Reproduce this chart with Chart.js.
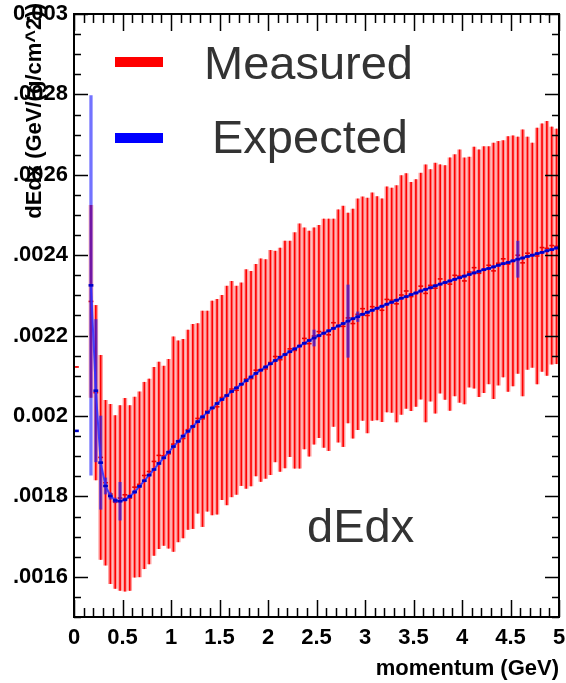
<!DOCTYPE html>
<html>
<head>
<meta charset="utf-8">
<script src="https://cdn.jsdelivr.net/npm/chart.js@4.4.1/dist/chart.umd.min.js"></script>
<style>
  html, body { margin: 0; padding: 0; background: #fff; }
  #wrap { width: 566px; height: 683px; }
</style>
</head>
<body>
<div id="wrap"><canvas id="c" width="566" height="683"></canvas></div>
<script>
// Bin centres (GeV), 0.05 GeV wide bins
const momentum = [
  0.025, 0.075, 0.125,
  0.175, 0.225, 0.275, 0.325, 0.375, 0.425, 0.475, 0.525, 0.575, 0.625,
  0.675, 0.725, 0.775, 0.825, 0.875, 0.925, 0.975, 1.025, 1.075, 1.125,
  1.175, 1.225, 1.275, 1.325, 1.375, 1.425, 1.475, 1.525, 1.575, 1.625,
  1.675, 1.725, 1.775, 1.825, 1.875, 1.925, 1.975, 2.025, 2.075, 2.125,
  2.175, 2.225, 2.275, 2.325, 2.375, 2.425, 2.475, 2.525, 2.575, 2.625,
  2.675, 2.725, 2.775, 2.825, 2.875, 2.925, 2.975, 3.025, 3.075, 3.125,
  3.175, 3.225, 3.275, 3.325, 3.375, 3.425, 3.475, 3.525, 3.575, 3.625,
  3.675, 3.725, 3.775, 3.825, 3.875, 3.925, 3.975, 4.025, 4.075, 4.125,
  4.175, 4.225, 4.275, 4.325, 4.375, 4.425, 4.475, 4.525, 4.575, 4.625,
  4.675, 4.725, 4.775, 4.825, 4.875, 4.925, 4.975
];

// Measured mean dE/dx per bin and its spread
const measured = [
  0.002122, null, null,
  0.002285, 0.002058, 0.001897, 0.001834, 0.001806, 0.001786, 0.001796, 0.001804, 0.001796, 0.001823,
  0.001830, 0.001852, 0.001862, 0.001887, 0.001902, 0.001901, 0.001906, 0.001930, 0.001937, 0.001944,
  0.001966, 0.001974, 0.001994, 0.001993, 0.002012, 0.002020, 0.002023, 0.002046, 0.002051, 0.002067,
  0.002064, 0.002079, 0.002092, 0.002093, 0.002114, 0.002114, 0.002117, 0.002133, 0.002148, 0.002140,
  0.002153, 0.002167, 0.002163, 0.002174, 0.002193, 0.002180, 0.002199, 0.002210, 0.002206, 0.002202,
  0.002232, 0.002224, 0.002223, 0.002244, 0.002230, 0.002253, 0.002267, 0.002250, 0.002272, 0.002268,
  0.002263, 0.002290, 0.002288, 0.002279, 0.002301, 0.002311, 0.002297, 0.002306, 0.002323, 0.002305,
  0.002325, 0.002318, 0.002341, 0.002332, 0.002328, 0.002350, 0.002348, 0.002336, 0.002358, 0.002369,
  0.002355, 0.002364, 0.002375, 0.002361, 0.002380, 0.002391, 0.002378, 0.002386, 0.002400, 0.002381,
  0.002405, 0.002400, 0.002398, 0.002419, 0.002417, 0.002424, 0.002422
];
const measuredErr = [
  0, null, null,
  0.000239, 0.000217, 0.000254, 0.000205, 0.000223, 0.000215, 0.000230, 0.000240, 0.000230, 0.000224,
  0.000230, 0.000232, 0.000230, 0.000234, 0.000232, 0.000223, 0.000235, 0.000267, 0.000250, 0.000247,
  0.000248, 0.000254, 0.000236, 0.000268, 0.000249, 0.000266, 0.000267, 0.000254, 0.000272, 0.000268,
  0.000259, 0.000252, 0.000272, 0.000267, 0.000263, 0.000277, 0.000272, 0.000279, 0.000262, 0.000278,
  0.000282, 0.000268, 0.000293, 0.000304, 0.000275, 0.000280, 0.000269, 0.000264, 0.000284, 0.000288,
  0.000258, 0.000289, 0.000299, 0.000261, 0.000285, 0.000287, 0.000278, 0.000292, 0.000283, 0.000278,
  0.000277, 0.000280, 0.000279, 0.000294, 0.000297, 0.000292, 0.000284, 0.000282, 0.000281, 0.000320,
  0.000288, 0.000311, 0.000284, 0.000291, 0.000314, 0.000300, 0.000314, 0.000306, 0.000286, 0.000300,
  0.000307, 0.000306, 0.000295, 0.000318, 0.000303, 0.000294, 0.000317, 0.000311, 0.000294, 0.000331,
  0.000289, 0.000279, 0.000318, 0.000308, 0.000316, 0.000295, 0.000292
];

// Expected dE/dx per bin and its uncertainty
const expected = [
  0.001963, null, null,
  0.002325, 0.002063, 0.001884, 0.001826, 0.001801, 0.001790, 0.001788, 0.001792, 0.001800, 0.001811,
  0.001825, 0.001839, 0.001853, 0.001867, 0.001882, 0.001896, 0.001910, 0.001924, 0.001937, 0.001950,
  0.001962, 0.001974, 0.001986, 0.001998, 0.002009, 0.002020, 0.002031, 0.002041, 0.002051, 0.002061,
  0.002070, 0.002079, 0.002088, 0.002097, 0.002106, 0.002114, 0.002122, 0.002130, 0.002138, 0.002146,
  0.002153, 0.002160, 0.002167, 0.002174, 0.002181, 0.002188, 0.002194, 0.002200, 0.002206, 0.002212,
  0.002218, 0.002224, 0.002230, 0.002236, 0.002242, 0.002247, 0.002253, 0.002258, 0.002263, 0.002268,
  0.002273, 0.002278, 0.002283, 0.002288, 0.002293, 0.002297, 0.002302, 0.002306, 0.002311, 0.002315,
  0.002319, 0.002324, 0.002328, 0.002332, 0.002336, 0.002340, 0.002344, 0.002348, 0.002352, 0.002356,
  0.002360, 0.002364, 0.002367, 0.002371, 0.002375, 0.002379, 0.002382, 0.002386, 0.002390, 0.002393,
  0.002397, 0.002400, 0.002404, 0.002407, 0.002411, 0.002414, 0.002418
];
const expectedErr = [
  0, null, null,
  0.000472, 0.000177, 0.000116, 0.000020, 0.000008, 0.000006, 0.000047, 0.000004, 0.000004, 0.000004,
  0.000003, 0.000003, 0.000003, 0.000003, 0.000003, 0.000003, 0.000003, 0.000003, 0.000003, 0.000003,
  0.000003, 0.000003, 0.000003, 0.000003, 0.000003, 0.000003, 0.000003, 0.000003, 0.000003, 0.000003,
  0.000003, 0.000003, 0.000003, 0.000003, 0.000003, 0.000003, 0.000003, 0.000003, 0.000003, 0.000003,
  0.000003, 0.000003, 0.000003, 0.000003, 0.000003, 0.000003, 0.000020, 0.000003, 0.000003, 0.000003,
  0.000003, 0.000003, 0.000003, 0.000090, 0.000003, 0.000012, 0.000003, 0.000003, 0.000003, 0.000003,
  0.000003, 0.000003, 0.000003, 0.000003, 0.000003, 0.000003, 0.000003, 0.000003, 0.000003, 0.000003,
  0.000003, 0.000003, 0.000003, 0.000003, 0.000003, 0.000003, 0.000003, 0.000003, 0.000003, 0.000003,
  0.000003, 0.000003, 0.000003, 0.000003, 0.000003, 0.000003, 0.000003, 0.000003, 0.000045, 0.000003,
  0.000003, 0.000003, 0.000003, 0.000003, 0.000003, 0.000003, 0.000003
];

const xTickValues = [0, 0.5, 1, 1.5, 2, 2.5, 3, 3.5, 4, 4.5, 5];
const xTickLabels = ['0', '0.5', '1', '1.5', '2', '2.5', '3', '3.5', '4', '4.5', '5'];
const yTickValues = [0.0016, 0.0018, 0.002, 0.0022, 0.0024, 0.0026, 0.0028, 0.003];
const yTickLabels = ['.0016', '.0018', '0.002', '.0022', '.0024', '.0026', '.0028', '0.003'];

const seriesNames = ['Measured', 'Expected'];
const histTitle = 'dEdx';
const xTitle = 'momentum (GeV)';
const yTitle = 'dEdx (GeV/(g/cm^2))';

const FONT = '"Liberation Sans", Arial, Helvetica, sans-serif';

// floating [low, high] intervals for the error bars
function errorIntervals(values, errs) {
  const out = [];
  momentum.forEach((x, i) => {
    if (values[i] == null) return;
    out.push({ x: x, y: [values[i] - errs[i], values[i] + errs[i]] });
  });
  return out;
}
function centres(values, keepGaps) {
  const out = [];
  momentum.forEach((x, i) => {
    if (values[i] == null && !keepGaps) return;
    out.push({ x: x, y: values[i] });
  });
  return out;
}

// keep tick labels from pushing the plot frame inwards
function noOverhang(scale) {
  scale.paddingLeft = 0;
  scale.paddingRight = 0;
  scale.paddingTop = 0;
  scale.paddingBottom = 0;
}

// Frame with inward-pointing ROOT-style ticks, legend and annotation text
const decorations = {
  id: 'decorations',
  afterDatasetsDraw(chart) {
    const ctx = chart.ctx;
    const { left, right, top, bottom } = chart.chartArea;
    const xs = chart.scales.x, ys = chart.scales.y;
    ctx.save();
    ctx.strokeStyle = '#000';
    ctx.lineWidth = 1.5;
    ctx.beginPath();
    for (let k = 0; k <= 50; k++) {
      const px = Math.round(xs.getPixelForValue(k * 0.1)) + 0.5;
      const len = (k % 5 === 0) ? 17 : 9;
      ctx.moveTo(px, bottom); ctx.lineTo(px, bottom - len);
      ctx.moveTo(px, top); ctx.lineTo(px, top + len);
    }
    for (let k = 0; k <= 30; k++) {
      const py = Math.round(ys.getPixelForValue(0.0015 + k * 0.00005)) + 0.5;
      const len = ((k - 2) % 4 === 0) ? 14 : 7;
      ctx.moveTo(left, py); ctx.lineTo(left + len, py);
      ctx.moveTo(right, py); ctx.lineTo(right - len, py);
    }
    ctx.stroke();
    ctx.lineWidth = 2;
    ctx.strokeRect(left, top, right - left, bottom - top);
    ctx.restore();
  },
  afterDraw(chart) {
    const ctx = chart.ctx;
    ctx.save();
    // legend
    ctx.fillStyle = '#ff0000';
    ctx.fillRect(115, 57, 48, 10);
    ctx.fillStyle = '#0000ff';
    ctx.fillRect(115, 133, 48, 10);
    ctx.fillStyle = '#333';
    ctx.font = '47px ' + FONT;
    ctx.textBaseline = 'alphabetic';
    ctx.textAlign = 'left';
    ctx.fillText(seriesNames[0], 204, 79);
    ctx.fillText(seriesNames[1], 212, 153);
    ctx.fillText(histTitle, 307, 542);
    // y axis title
    ctx.fillStyle = '#000';
    ctx.font = 'bold 22px ' + FONT;
    ctx.translate(35, 3);
    ctx.rotate(-Math.PI / 2);
    ctx.textAlign = 'right';
    ctx.textBaseline = 'middle';
    ctx.fillText(yTitle, 0, 0);
    ctx.restore();
  }
};

new Chart(document.getElementById('c'), {
  type: 'bar',
  data: {
    datasets: [
      { // expected: connected bin markers
        type: 'line',
        data: centres(expected, true),
        borderColor: 'rgba(50,50,255,0.9)',
        borderWidth: 2,
        spanGaps: false,
        pointStyle: 'line',
        pointRadius: 2.4,
        pointBorderWidth: 2.6,
        pointBorderColor: '#0000c8',
        order: 0
      },
      { // expected uncertainty
        type: 'bar',
        data: errorIntervals(expected, expectedErr),
        backgroundColor: 'rgba(20,20,255,0.6)',
        barThickness: 2.6,
        grouped: false,
        order: 1
      },
      { // measured bin markers
        type: 'scatter',
        data: centres(measured, false),
        showLine: false,
        pointStyle: 'line',
        pointRadius: 2.4,
        pointBorderWidth: 1.6,
        pointBorderColor: '#ee0000',
        order: 2
      },
      { // measured spread, core line
        type: 'bar',
        data: errorIntervals(measured, measuredErr),
        backgroundColor: '#ff0000',
        barThickness: 1,
        grouped: false,
        order: 3
      },
      { // measured spread, halo
        type: 'bar',
        data: errorIntervals(measured, measuredErr),
        backgroundColor: 'rgba(255,0,0,0.38)',
        barThickness: 3.9,
        grouped: false,
        order: 4
      }
    ]
  },
  options: {
    responsive: false,
    animation: false,
    devicePixelRatio: 1,
    layout: { padding: { top: 14, right: 7, left: 0, bottom: 0 } },
    plugins: { legend: { display: false }, tooltip: { enabled: false } },
    scales: {
      x: {
        type: 'linear',
        min: 0, max: 5,
        offset: false,
        grid: { display: false, drawTicks: false },
        border: { display: false },
        afterFit(scale) { scale.height = 66; noOverhang(scale); },
        afterBuildTicks(scale) { scale.ticks = xTickValues.map(v => ({ value: v })); },
        ticks: {
          autoSkip: false,
          maxRotation: 0,
          padding: 8,
          color: '#000',
          font: { family: FONT, size: 22, weight: 'bold' },
          callback: (v, i) => xTickLabels[i]
        },
        title: {
          display: true,
          text: xTitle,
          align: 'end',
          color: '#000',
          font: { family: FONT, size: 22, weight: 'bold' },
          padding: { top: 0, bottom: 1 }
        }
      },
      y: {
        type: 'linear',
        min: 0.0015, max: 0.003,
        grid: { display: false, drawTicks: false },
        border: { display: false },
        afterFit(scale) { scale.width = 74; noOverhang(scale); },
        afterBuildTicks(scale) { scale.ticks = yTickValues.map(v => ({ value: v })); },
        ticks: {
          autoSkip: false,
          padding: 6,
          color: '#000',
          font: { family: FONT, size: 22, weight: 'bold' },
          callback: (v, i) => yTickLabels[i]
        }
      }
    }
  },
  plugins: [decorations]
});
</script>
</body>
</html>
